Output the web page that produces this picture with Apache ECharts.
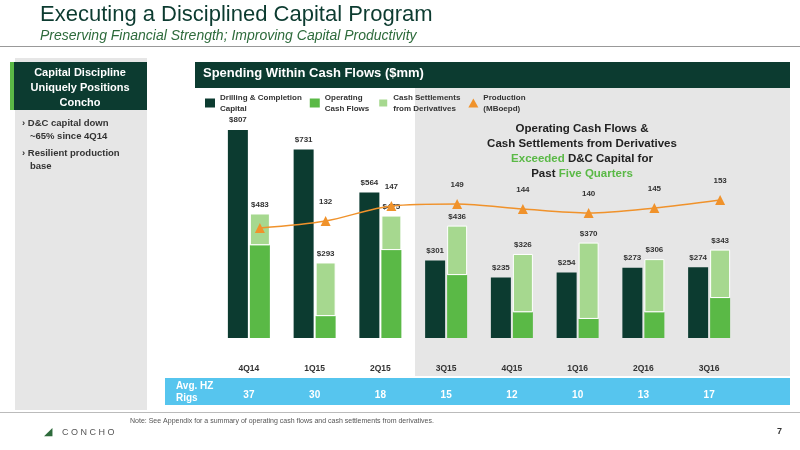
<!DOCTYPE html><html><head><meta charset="utf-8"><script src="https://cdn.jsdelivr.net/npm/echarts@6/dist/echarts.min.js"></script>
<style>html,body{margin:0;padding:0;background:#fff}#c{width:800px;height:450px}</style></head><body><div id="c"></div><script>
const quarters=['4Q14','1Q15','2Q15','3Q15','4Q15','1Q16','2Q16','3Q16'];
const dcCapital=[807,731,564,301,235,254,273,274];
const opCashFlows=[360,85,341,244,100,74,100,155];
const cashSettlements=[123,208,134,192,226,296,206,188];
const production=[125,132,147,149,144,140,145,153];
const rigs=[37,30,18,15,12,10,13,17];
const DK='#0c3b30',G='#5ab946',LG='#a6d88f',OR='#f0922b';
const chart=echarts.init(document.getElementById('c'));
const F='Liberation Sans, Arial, sans-serif';
chart.setOption({
 animation:false,textStyle:{fontFamily:F},
 graphic:[
  {type:'rect',shape:{x:15,y:58,width:132,height:352},style:{fill:'#e6e6e6'},z:-10},
  {type:'rect',shape:{x:10,y:62,width:137,height:48},style:{fill:DK},z:-5},
  {type:'rect',shape:{x:10,y:62,width:4,height:48},style:{fill:G},z:-4},
  {type:'text',style:{x:80,y:65,text:'Capital Discipline\nUniquely Positions\nConcho',fill:'#fff',font:'bold 11px '+F,align:'center',lineHeight:15}},
  {type:'text',left:22,top:117,style:{text:'› D&C capital down\n   ~65% since 4Q14',fill:'#333',font:'bold 9.5px '+F,lineHeight:13}},
  {type:'text',left:22,top:147,style:{text:'› Resilient production\n   base',fill:'#333',font:'bold 9.5px '+F,lineHeight:13}},
  {type:'text',left:40,top:4,style:{text:'Executing a Disciplined Capital Program',fill:DK,font:'22px '+F}},
  {type:'text',left:40,top:29,style:{text:'Preserving Financial Strength; Improving Capital Productivity',fill:'#2e6b3c',font:'italic 14px '+F}},
  {type:'rect',shape:{x:0,y:46,width:800,height:1},style:{fill:'#999'}},
  {type:'rect',shape:{x:195,y:62,width:595,height:26},style:{fill:DK}},
  {type:'text',left:203,top:67,style:{text:'Spending Within Cash Flows ($mm)',fill:'#fff',font:'bold 13px '+F}},
  {type:'rect',shape:{x:415,y:88,width:375,height:288},style:{fill:'#e6e6e6'},z:-10},
  {type:'rect',shape:{x:165,y:378,width:625,height:27},style:{fill:'#56c5ee'},z:-10},
  {type:'text',left:176,top:380,style:{text:'Avg. HZ\nRigs',fill:'#fff',font:'bold 10px '+F,lineHeight:12}},
  {type:'text',style:{x:582,y:121,align:'center',rich:{a:{fill:'#222',font:'bold 11.5px '+F,lineHeight:15,align:'center'},g:{fill:G,font:'bold 11.5px '+F,lineHeight:15}},text:'{a|Operating Cash Flows &}\n{a|Cash Settlements from Derivatives}\n{g|Exceeded}{a| D&C Capital for}\n{a|Past }{g|Five Quarters}'}},
  {type:'rect',shape:{x:0,y:412,width:800,height:1},style:{fill:'#bbb'}},
  {type:'text',left:130,top:418,style:{text:'Note: See Appendix for a summary of operating cash flows and cash settlements from derivatives.',fill:'#555',font:'7px '+F}},
  {type:'text',left:62,top:428,style:{text:'C O N C H O',fill:'#555',font:'9px '+F}},
  {type:'text',left:44,top:426,style:{text:'◢',fill:'#2e6b3c',font:'11px '+F}},
  {type:'text',left:777,top:427,style:{text:'7',fill:'#333',font:'bold 9px '+F}}
 ],
 legend:{left:200,top:87,itemWidth:10,itemHeight:9,itemGap:8,textStyle:{fontSize:8,fontWeight:'bold',color:'#333',lineHeight:11},
  data:[{name:'Drilling & Completion\nCapital',icon:'rect'},{name:'Operating\nCash Flows',icon:'rect'},{name:'Cash Settlements\nfrom Derivatives',icon:'rect'},{name:'Production\n(MBoepd)',icon:'triangle'}]},
 grid:[{left:216,right:58,top:106,bottom:112},{left:227,right:47,top:106,bottom:112}],
 xAxis:[{type:'category',data:quarters,axisLine:{show:false},axisTick:{show:false},axisLabel:{margin:26,fontSize:8.5,fontWeight:'bold',color:'#333'}},
  {type:'category',data:rigs,position:'bottom',offset:44,axisLine:{show:false},axisTick:{show:false},axisLabel:{fontSize:10,fontWeight:'bold',color:'#fff'}},
  {type:'category',gridIndex:1,data:quarters,show:false}],
 yAxis:[{type:'value',min:0,max:900,show:false},{type:'value',gridIndex:1,min:15,max:247,show:false}],
 series:[
  {name:'Drilling & Completion\nCapital',type:'bar',data:dcCapital,barWidth:20,barGap:'10%',itemStyle:{color:DK},label:{show:true,position:'top',distance:6,formatter:p=>'$'+p.value,fontSize:8,fontWeight:'bold',color:'#333'}},
  {name:'Operating\nCash Flows',type:'bar',stack:'cf',data:opCashFlows,barWidth:20,itemStyle:{color:G}},
  {name:'Cash Settlements\nfrom Derivatives',type:'bar',stack:'cf',data:cashSettlements,barWidth:20,itemStyle:{color:LG,borderColor:'#fff',borderWidth:1},
   label:{show:true,position:'top',distance:5,formatter:p=>'$'+(opCashFlows[p.dataIndex]+cashSettlements[p.dataIndex]),fontSize:8,fontWeight:'bold',color:'#333'}},
  {name:'Production\n(MBoepd)',type:'line',xAxisIndex:2,yAxisIndex:1,data:production,smooth:0.3,symbol:'triangle',symbolSize:10,lineStyle:{color:OR,width:1.5},itemStyle:{color:OR},z:10,
   label:{show:true,position:'top',distance:10,fontSize:8,fontWeight:'bold',color:'#333',formatter:p=>p.dataIndex===0?'':p.value}},
  {type:'line',xAxisIndex:2,yAxisIndex:1,data:production.map((v,i)=>i===0?v:null),symbol:'none',lineStyle:{opacity:0},z:11,
   label:{show:true,position:'bottom',distance:6,fontSize:9,fontWeight:'bold',color:'#fff'}}
 ]});
</script></body></html>
